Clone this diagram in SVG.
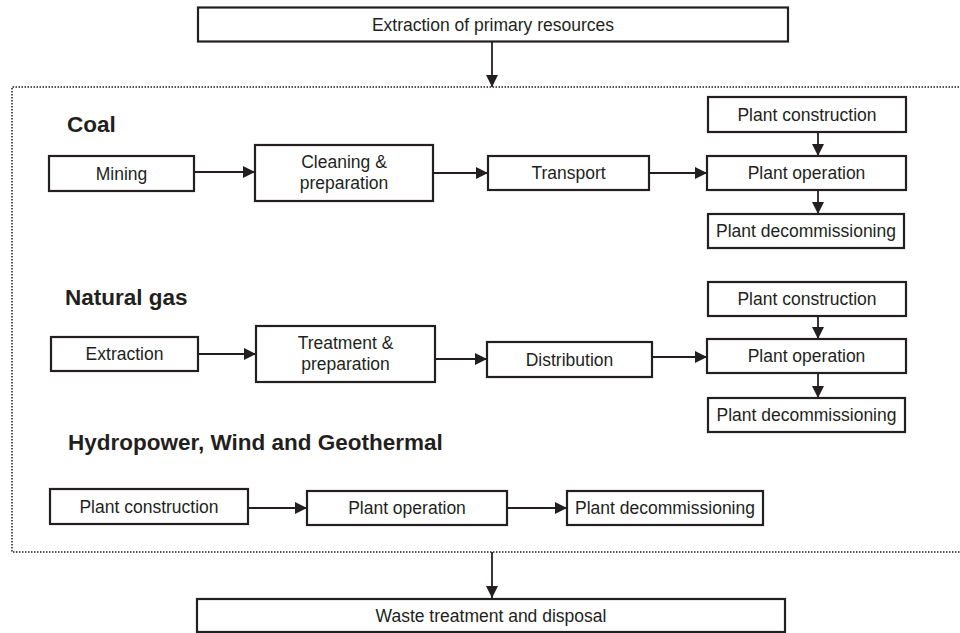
<svg xmlns="http://www.w3.org/2000/svg" width="960" height="633" viewBox="0 0 960 633">
<defs>
<marker id="ah" markerWidth="12" markerHeight="12" refX="12" refY="6" orient="auto" markerUnits="userSpaceOnUse">
<path d="M0,0 L12,6 L0,12 Z" fill="#231f20"/>
</marker>
<style>
.box{fill:#fff;stroke:#231f20;stroke-width:2.2}
.t{font-family:"Liberation Sans",Arial,sans-serif;font-size:17.5px;fill:#231f20;text-anchor:middle}
.h{font-family:"Liberation Sans",Arial,sans-serif;font-size:22.5px;font-weight:bold;fill:#231f20}
.c{fill:none;stroke:#231f20;stroke-width:1.8;marker-end:url(#ah)}
.dot{fill:none;stroke:#231f20;stroke-width:1.5;stroke-dasharray:1.5 1.5}
</style>
</defs>
<rect width="960" height="633" fill="#fff"/>
<path class="dot" d="M965,87 L12,87 L12,552 L965,552"/>
<text class="h" x="67" y="132">Coal</text>
<text class="h" x="65" y="305">Natural gas</text>
<text class="h" x="68" y="450">Hydropower, Wind and Geothermal</text>
<g id="connectors">
<path class="c" d="M492,42 L492,87"/>
<path class="c" d="M194,172 L255,172"/>
<path class="c" d="M433,173 L488,173"/>
<path class="c" d="M649,173 L707,173"/>
<path class="c" d="M818,132 L818,156"/>
<path class="c" d="M818,190 L818,214"/>
<path class="c" d="M198,354 L256,354"/>
<path class="c" d="M435,359 L487,359"/>
<path class="c" d="M652,357 L707,357"/>
<path class="c" d="M818,316 L818,339"/>
<path class="c" d="M818,373 L818,398"/>
<path class="c" d="M248,508 L307,508"/>
<path class="c" d="M507,508 L567,508"/>
<path class="c" d="M492,552 L492,598"/>
</g>
<g id="n-extraction-primary"><rect class="box" x="198" y="7.5" width="590" height="34"/><text class="t" x="493" y="30.5">Extraction of primary resources</text></g>
<g id="n-mining"><rect class="box" x="49" y="156" width="145" height="35"/><text class="t" x="121.5" y="179.5">Mining</text></g>
<g id="n-cleaning"><rect class="box" x="255" y="145" width="178" height="56"/><text class="t" x="344" y="168">Cleaning &amp;</text><text class="t" x="344" y="189">preparation</text></g>
<g id="n-transport"><rect class="box" x="488" y="156" width="161" height="34"/><text class="t" x="568.5" y="179">Transport</text></g>
<g id="n-coal-pc"><rect class="box" x="708" y="97" width="198" height="35"/><text class="t" x="807" y="120.5">Plant construction</text></g>
<g id="n-coal-po"><rect class="box" x="707" y="156" width="199" height="34"/><text class="t" x="806.5" y="179">Plant operation</text></g>
<g id="n-coal-pd"><rect class="box" x="708" y="214" width="196" height="34"/><text class="t" x="806" y="237">Plant decommissioning</text></g>
<g id="n-extraction"><rect class="box" x="51" y="337" width="147" height="34"/><text class="t" x="124.5" y="360">Extraction</text></g>
<g id="n-treatment"><rect class="box" x="256" y="326" width="179" height="56"/><text class="t" x="345.5" y="349">Treatment &amp;</text><text class="t" x="345.5" y="370">preparation</text></g>
<g id="n-distribution"><rect class="box" x="487" y="342" width="165" height="35"/><text class="t" x="569.5" y="365.5">Distribution</text></g>
<g id="n-gas-pc"><rect class="box" x="708" y="282" width="198" height="34"/><text class="t" x="807" y="305">Plant construction</text></g>
<g id="n-gas-po"><rect class="box" x="707" y="339" width="199" height="34"/><text class="t" x="806.5" y="362">Plant operation</text></g>
<g id="n-gas-pd"><rect class="box" x="708" y="398" width="197" height="34"/><text class="t" x="806.5" y="421">Plant decommissioning</text></g>
<g id="n-hydro-pc"><rect class="box" x="50" y="489" width="198" height="35"/><text class="t" x="149" y="512.5">Plant construction</text></g>
<g id="n-hydro-po"><rect class="box" x="307" y="491" width="200" height="34"/><text class="t" x="407" y="514">Plant operation</text></g>
<g id="n-hydro-pd"><rect class="box" x="567" y="491" width="196" height="34"/><text class="t" x="665" y="514">Plant decommissioning</text></g>
<g id="n-waste"><rect class="box" x="197" y="599" width="588" height="33"/><text class="t" x="491" y="621.5">Waste treatment and disposal</text></g>
</svg>
